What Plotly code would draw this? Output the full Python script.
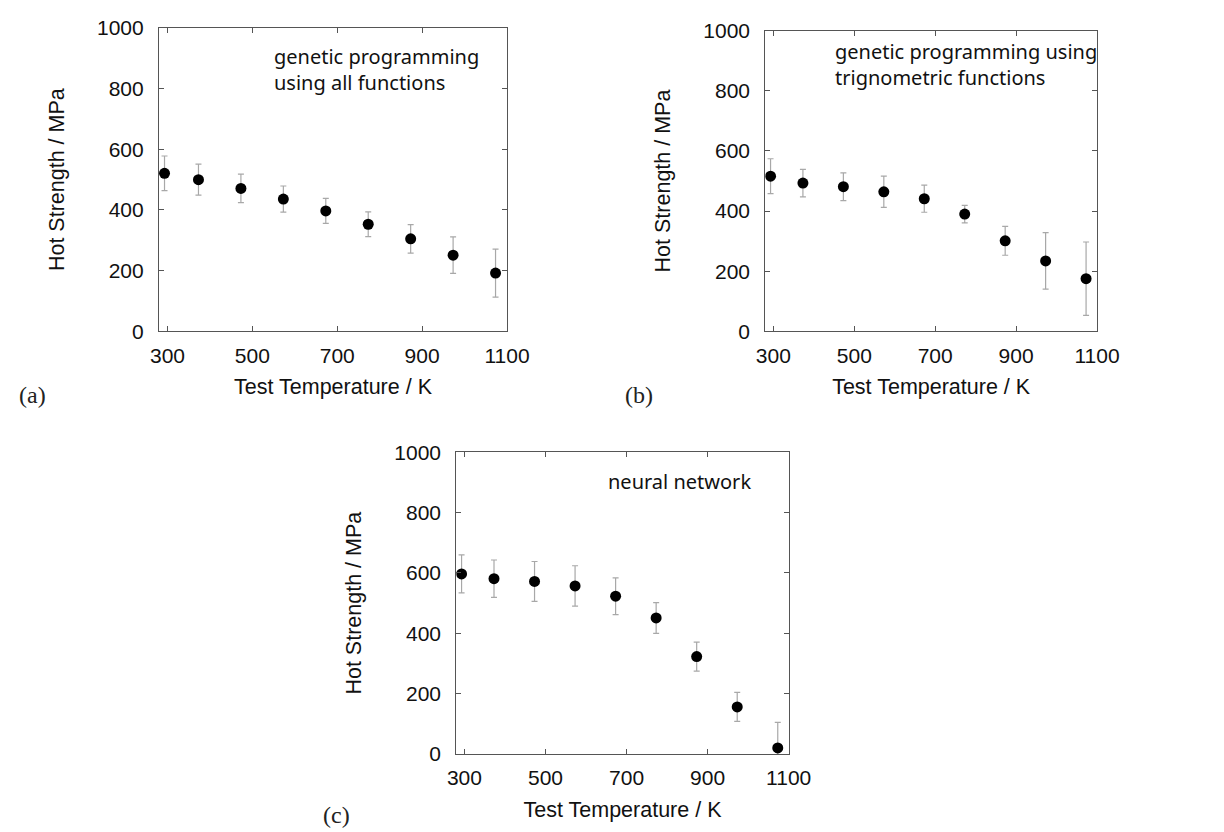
import plotly.graph_objects as go

# ---------------- data ----------------
temperature = [293, 373, 473, 573, 673, 773, 873, 973, 1073]

gp_all_strength = [521, 500, 471, 436, 397, 353, 305, 251, 192]
gp_all_error = [57, 51, 47, 43, 41, 41, 47, 60, 79]

gp_trig_strength = [516, 493, 481, 464, 441, 390, 301, 234, 175]
gp_trig_error = [58, 46, 46, 52, 45, 29, 48, 94, 122]

nn_strength = [597, 581, 572, 557, 523, 451, 323, 156, 20]
nn_error = [63, 62, 66, 67, 61, 51, 48, 48, 85]

x_ticks = [300, 500, 700, 900, 1100]
y_ticks = [0, 200, 400, 600, 800, 1000]

panel_notes = ["genetic programming<br>using all functions",
               "genetic programming using<br>trignometric functions",
               "neural network"]
panel_tags = ["(a)", "(b)", "(c)"]

# ---------------- figure ----------------
W, H = 1224, 832
fig = go.Figure()

# plot areas in pixels: (left, right, top, bottom)
boxes = [(151, 499, 20, 323.3), (757.3, 1089, 22.7, 323.3), (448.3, 780.7, 444.3, 746)]
series = [(gp_all_strength, gp_all_error), (gp_trig_strength, gp_trig_error), (nn_strength, nn_error)]

tick_font = dict(family="Liberation Sans, Arial, sans-serif", size=21, color="#111")
title_font = dict(family="Liberation Sans, Arial, sans-serif", size=21.5, color="#111")

for i, ((l, r, t, b), (ys, es)) in enumerate(zip(boxes, series)):
    sfx = "" if i == 0 else str(i + 1)
    fig.add_trace(go.Scatter(
        x=temperature, y=ys, mode="markers",
        marker=dict(color="black", size=11),
        error_y=dict(type="data", array=es, visible=True, color="#a8a8a8", thickness=1.2, width=3),
        xaxis="x" + sfx, yaxis="y" + sfx, showlegend=False, cliponaxis=True,
    ))
    common = dict(showline=True, linecolor="#555", linewidth=1.2, mirror="ticks",
                  ticks="inside", ticklen=5, tickcolor="#555", tickwidth=1,
                  showgrid=False, zeroline=False, tickfont=tick_font, automargin=False)
    fig.update_layout(**{
        "xaxis" + sfx: dict(domain=[l / W, r / W], range=[280, 1100], tickvals=x_ticks,
                            anchor="y" + sfx, ticklabelstandoff=5,
                            title=dict(text="Test Temperature / K", font=title_font, standoff=13),
                            **common),
        "yaxis" + sfx: dict(domain=[1 - b / H, 1 - t / H], range=[0, 1000], tickvals=y_ticks,
                            anchor="x" + sfx, ticklabelstandoff=10,
                            title=dict(text="Hot Strength / MPa", font=title_font, standoff=26),
                            **common),
    })

notes_pos = [(264, 33), (825, 28), (598, 458)]
for (px, py), txt in zip(notes_pos, panel_notes):
    fig.add_annotation(x=px / W, y=1 - py / H, xref="paper", yref="paper",
                       text=txt, showarrow=False, xanchor="left", yanchor="top", align="left",
                       font=dict(family="Noto Sans, Open Sans, sans-serif", size=20, color="#111"))

tags_pos = [(24, 387), (631, 387), (328, 807)]
for (px, py), txt in zip(tags_pos, panel_tags):
    fig.add_annotation(x=px / W, y=1 - py / H, xref="paper", yref="paper",
                       text=txt, showarrow=False, xanchor="center", yanchor="middle",
                       font=dict(family="Liberation Serif, DejaVu Serif, serif", size=24, color="#222"))

fig.update_layout(width=W, height=H, margin=dict(l=0, r=0, t=0, b=0),
                  paper_bgcolor="white", plot_bgcolor="white")

fig.write_html("out.html")
